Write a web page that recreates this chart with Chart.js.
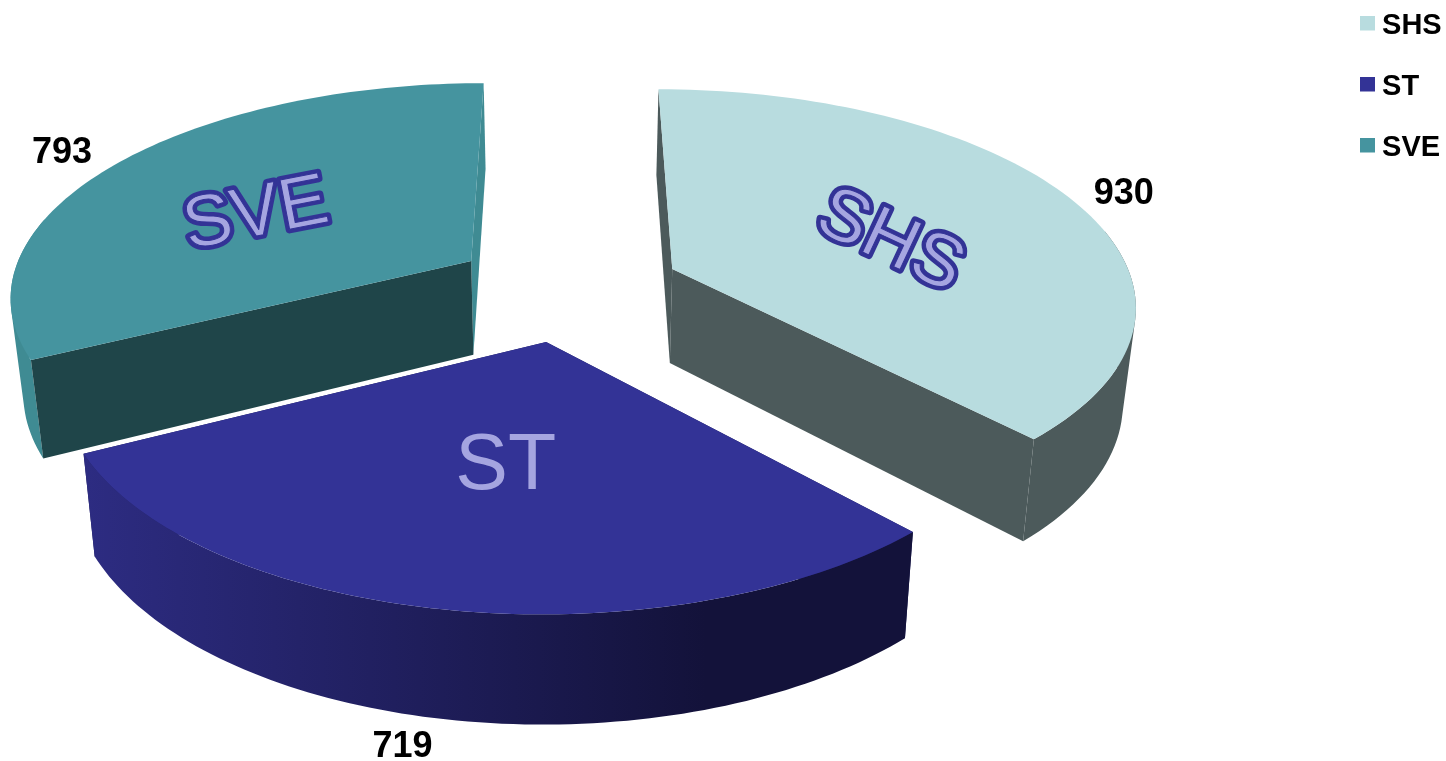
<!DOCTYPE html>
<html>
<head>
<meta charset="utf-8">
<title>SHS ST SVE</title>
<script src="https://cdn.jsdelivr.net/npm/chart.js@4"></script>
<style>
html, body { margin: 0; padding: 0; background: #ffffff; }
#wrap { width: 1446px; height: 761px; }
</style>
</head>
<body>
<div id="wrap"><canvas id="pie3d"></canvas></div>
<script>
var categories = ['SHS', 'ST', 'SVE'];
var values = [930, 719, 793];

var topColors = ['#b8dcdf', '#333396', '#45949f'];
var startWallColors = ['#4c5a5b', '#1f1e5c', '#1f4549'];
var endWallColors = ['#4c5a5b', '#1f1e5c', '#3f8b93'];
var arcWallLeft = ['#4c5a5b', '#2d2c82', '#3f8b93'];
var arcWallRight = ['#4c5a5b', '#13123a', '#3f8b93'];

// the camera looking at the pie, the library only knows a flat circle
var view = { cx: 567, cy: 288, radius: 462, tilt: 0.46, persp: 0.00033, depth: 95, depthGrow: 65, shrink: 0.977 };

// text placement: nudge in px from the projected point
var nameNudge = [[14, 10], [7, 3], [-33, 6]];
var nameTurn = [25, 0, -11];
var nameSize = [74, 79, 73];
var nameOutlined = [true, false, true];
var valueNudge = [[55, -3], [-43, 28], [-58, -9]];

function project(arc, angle, frac, low) {
    var mid = (arc.startAngle + arc.endAngle) / 2;
    var off = arc.options.offset / arc.outerRadius * view.radius;
    var x = off * Math.cos(mid) + view.radius * frac * Math.cos(angle);
    var z = off * Math.sin(mid) + view.radius * frac * Math.sin(angle);
    var s = 1 / (1 - view.persp * z);
    if (low) {
        return {
            x: view.cx + x * s * view.shrink,
            y: view.cy + view.tilt * z * s + view.depth + view.depthGrow * (s - 1)
        };
    }
    return { x: view.cx + x * s, y: view.cy + view.tilt * z * s };
}

function tracePts(ctx, pts) {
    pts.forEach(function(p, i) {
        if (i == 0) ctx.moveTo(p.x, p.y); else ctx.lineTo(p.x, p.y);
    });
    ctx.closePath();
}

function poly(ctx, pts, fill) {
    ctx.beginPath();
    tracePts(ctx, pts);
    ctx.fillStyle = fill;
    ctx.fill();
}

function arcAngle(arc, i) {
    return arc.startAngle + (arc.endAngle - arc.startAngle) * i / 90;
}

function arcPoints(arc, low) {
    var pts = [];
    for (var i = 0; i <= 90; i++) {
        pts.push(project(arc, arcAngle(arc, i), 1, low));
    }
    return pts;
}

function area(q) {
    var sum = 0;
    for (var i = 0; i < q.length; i++) {
        var n = q[(i + 1) % q.length];
        sum += q[i].x * n.y - n.x * q[i].y;
    }
    return sum;
}

function drawSlice(ctx, arc, i) {
    var apex = project(arc, 0, 0, false);
    var apexLow = project(arc, 0, 0, true);
    var top = arcPoints(arc, false);
    var low = arcPoints(arc, true);
    var last = top.length - 1;
    var startWall = [apex, top[0], low[0], apexLow];
    var endWall = [apex, top[last], low[last], apexLow];
    var startFront = Math.cos(arc.startAngle) < -0.01;
    var endFront = Math.cos(arc.endAngle) > 0.01;

    // walls turned away first, then the rim, then the ones facing us, then the lid
    if (!startFront) poly(ctx, startWall, startWallColors[i]);
    if (!endFront) poly(ctx, endWall, endWallColors[i]);

    var minX = Math.min.apply(null, top.map(function(p) { return p.x; }));
    var maxX = Math.max.apply(null, top.map(function(p) { return p.x; }));
    var grad = ctx.createLinearGradient(minX, 0, maxX, 0);
    grad.addColorStop(0, arcWallLeft[i]);
    grad.addColorStop(0.75, arcWallRight[i]);
    grad.addColorStop(1, arcWallRight[i]);

    // rim strips in one path, same winding, so no seams and the outline keeps its tangent edge.
    // the far side is under the lid anyway and would only leave a fringe
    ctx.beginPath();
    for (var k = 0; k < last; k++) {
        if (Math.sin(arcAngle(arc, k)) < -0.2) continue;
        var q = [top[k], top[k + 1], low[k + 1], low[k]];
        if (area(q) < 0) q.reverse();
        tracePts(ctx, q);
    }
    ctx.fillStyle = grad;
    ctx.fill();

    if (startFront) poly(ctx, startWall, startWallColors[i]);
    if (endFront) poly(ctx, endWall, endWallColors[i]);
    poly(ctx, [apex].concat(top), topColors[i]);
}

function drawTexts(ctx, arc, i) {
    var mid = (arc.startAngle + arc.endAngle) / 2;
    var p = project(arc, mid, 0.5, false);
    ctx.save();
    ctx.translate(p.x + nameNudge[i][0], p.y + nameNudge[i][1]);
    ctx.rotate(nameTurn[i] * Math.PI / 180);
    ctx.font = nameSize[i] + 'px "Liberation Sans"';
    ctx.textAlign = 'center';
    ctx.textBaseline = 'middle';
    ctx.lineJoin = 'round';
    ctx.strokeStyle = '#333396';
    if (nameOutlined[i]) {
        ctx.lineWidth = 8;
        ctx.strokeText(categories[i], 0, 0);
    }
    ctx.fillStyle = '#a5a5e0';
    ctx.fillText(categories[i], 0, 0);
    if (nameOutlined[i]) {
        ctx.lineWidth = 1;
        ctx.strokeText(categories[i], 0, 0);
    }
    ctx.restore();

    var q = project(arc, mid, 1, i == 1);
    ctx.font = 'bold 36px "Liberation Sans"';
    ctx.textAlign = 'center';
    ctx.textBaseline = 'middle';
    ctx.fillStyle = '#000000';
    ctx.fillText(String(values[i]), q.x + valueNudge[i][0], q.y + valueNudge[i][1]);
}

var pie3dPlugin = {
    id: 'pie3d',
    afterLayout: function(chart) {
        chart.legend.left = 1367.45 - chart.options.plugins.legend.labels.padding;
        chart.legend.top = -21;
    },
    beforeDatasetsDraw: function(chart) {
        var ctx = chart.ctx;
        var arcs = chart.getDatasetMeta(0).data;
        ctx.save();
        // far slices first
        [2, 0, 1].forEach(function(i) { drawSlice(ctx, arcs[i], i); });
        arcs.forEach(function(arc, i) { drawTexts(ctx, arc, i); });
        ctx.restore();
        return false;
    }
};

// taller than the square so the square sits a little above the text middle
function swatch(color) {
    var c = document.createElement('canvas');
    c.width = 15;
    c.height = 20;
    var g = c.getContext('2d');
    g.fillStyle = color;
    g.fillRect(0, 0, 15, 15);
    return c;
}

new Chart(document.getElementById('pie3d').getContext('2d'), {
    type: 'pie',
    data: {
        labels: categories,
        datasets: [{
            data: values,
            backgroundColor: topColors,
            offset: 84,
            borderWidth: 0
        }]
    },
    options: {
        responsive: true,
        maintainAspectRatio: false,
        animation: false,
        plugins: {
            tooltip: { enabled: false },
            legend: {
                display: true,
                position: 'right',
                align: 'start',
                labels: {
                    color: '#000000',
                    font: { family: '"Liberation Sans"', size: 29, weight: 'bold' },
                    padding: 32,
                    usePointStyle: true,
                    pointStyleWidth: 0.1,
                    generateLabels: function(chart) {
                        return categories.map(function(name, i) {
                            return { text: name, pointStyle: swatch(topColors[i]), fillStyle: topColors[i], strokeStyle: topColors[i], lineWidth: 0, index: i, hidden: false };
                        });
                    }
                }
            }
        }
    },
    plugins: [pie3dPlugin]
});
</script>
</body>
</html>
